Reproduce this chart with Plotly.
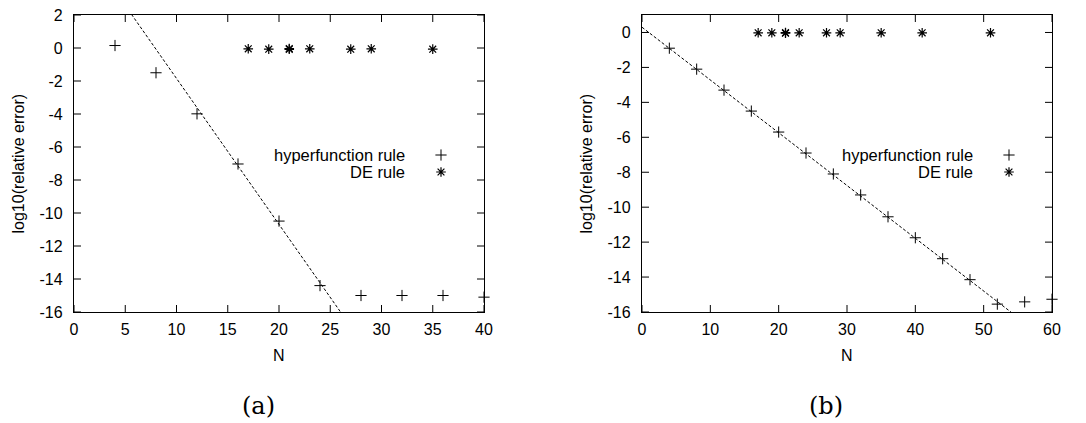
import plotly.graph_objects as go

# ---- data (a) ----
a_hyp_N = [4, 8, 12, 16, 20, 24, 28, 32, 36, 40]
a_hyp_err = [0.15, -1.5, -3.99, -7.03, -10.49, -14.4, -15.0, -15.0, -15.0, -15.1]
a_de_N = [17, 19, 21, 21, 23, 27, 29, 35]
a_de_err = [-0.05, -0.07, -0.03, -0.08, -0.05, -0.07, -0.05, -0.07]
a_fit_N = [0, 40]
a_fit_err = [7.0, 7.0 - 0.8845 * 40]

# ---- data (b) ----
b_hyp_N = [4, 8, 12, 16, 20, 24, 28, 32, 36, 40, 44, 48, 52, 56, 60]
b_hyp_err = [-0.9, -2.1, -3.3, -4.5, -5.7, -6.9, -8.1, -9.3, -10.55, -11.75,
             -12.95, -14.15, -15.55, -15.42, -15.27]
b_de_N = [17, 19, 21, 21, 23, 27, 29, 35, 41, 51]
b_de_err = [-0.02, -0.02, -0.01, -0.04, -0.02, -0.02, -0.02, -0.02, -0.02, -0.02]
b_fit_N = [0, 60]
b_fit_err = [0.3, 0.3 - 0.302 * 60]

x_ticks_a = [0, 5, 10, 15, 20, 25, 30, 35, 40]
x_ticks_b = [0, 10, 20, 30, 40, 50, 60]
y_ticks_a = [2, 0, -2, -4, -6, -8, -10, -12, -14, -16]
y_ticks_b = [0, -2, -4, -6, -8, -10, -12, -14, -16]
legend_labels = ["hyperfunction rule", "DE rule"]
panel_labels = ["(a)", "(b)"]
x_title = "N"
y_title = "log10(relative error)"

W, H = 1086, 423
FONT = "Liberation Sans, Arial, sans-serif"
BLACK = "#000000"
TICKLEN = 7

fig = go.Figure()

plus = dict(symbol="cross-thin-open", size=8, line=dict(color=BLACK, width=1), color=BLACK)
star = dict(symbol="asterisk-open", size=8, line=dict(color=BLACK, width=1.2), color=BLACK)

# pixel layout
PT, PB = 15, 312
panels = [
    dict(xa="x", ya="y", hx=a_hyp_N, hy=a_hyp_err, dx=a_de_N, dy=a_de_err,
         fx=a_fit_N, fy=a_fit_err, xr=[0, 40], yr=[-16, 2], L=74, R=484,
         xt=x_ticks_a, yt=y_ticks_a, text_right=407, key=441, ytitle_x=18),
    dict(xa="x2", ya="y2", hx=b_hyp_N, hy=b_hyp_err, dx=b_de_N, dy=b_de_err,
         fx=b_fit_N, fy=b_fit_err, xr=[0, 60], yr=[-16, 1], L=642, R=1052,
         xt=x_ticks_b, yt=y_ticks_b, text_right=975, key=1009, ytitle_x=586),
]
leg_rows = [155, 172]

for p in panels:
    x0r, x1r = p["xr"]
    y0r, y1r = p["yr"]
    dx_len = TICKLEN / (p["R"] - p["L"]) * (x1r - x0r)
    dy_len = TICKLEN / (PB - PT) * (y1r - y0r)

    # inside tick marks on all four sides (gnuplot style), built from the tick lists
    tx, ty = [], []
    for v in p["xt"]:
        tx += [v, v, None, v, v, None]
        ty += [y0r, y0r + dy_len, None, y1r, y1r - dy_len, None]
    for v in p["yt"]:
        tx += [x0r, x0r + dx_len, None, x1r, x1r - dx_len, None]
        ty += [v, v, None, v, v, None]
    fig.add_trace(go.Scatter(x=tx, y=ty, mode="lines", xaxis=p["xa"], yaxis=p["ya"],
                             line=dict(color=BLACK, width=1), showlegend=False,
                             hoverinfo="skip", connectgaps=False))

    fig.add_trace(go.Scatter(x=p["fx"], y=p["fy"], mode="lines", xaxis=p["xa"], yaxis=p["ya"],
                             line=dict(color=BLACK, width=1, dash="3px,2px"), showlegend=False,
                             hoverinfo="skip"))
    fig.add_trace(go.Scatter(x=p["hx"], y=p["hy"], mode="markers", xaxis=p["xa"], yaxis=p["ya"],
                             marker=plus, showlegend=False, cliponaxis=False))
    fig.add_trace(go.Scatter(x=p["dx"], y=p["dy"], mode="markers", xaxis=p["xa"], yaxis=p["ya"],
                             marker=star, showlegend=False, cliponaxis=False))

    # legend key positions converted from pixel layout to the panel's axis units
    kx = x0r + (p["key"] - p["L"]) / (p["R"] - p["L"]) * (x1r - x0r)
    ky = [y1r - (r - PT) / (PB - PT) * (y1r - y0r) for r in leg_rows]
    fig.add_trace(go.Scatter(x=[kx], y=[ky[0]], mode="markers",
                             xaxis=p["xa"], yaxis=p["ya"], marker=plus,
                             showlegend=False, hoverinfo="skip"))
    fig.add_trace(go.Scatter(x=[kx], y=[ky[1]], mode="markers",
                             xaxis=p["xa"], yaxis=p["ya"], marker=star,
                             showlegend=False, hoverinfo="skip"))
    for lab, row in zip(legend_labels, leg_rows):
        fig.add_annotation(x=p["text_right"] / W, y=1 - row / H, xref="paper", yref="paper",
                           text=lab, showarrow=False, xanchor="right", yanchor="middle",
                           font=dict(family=FONT, size=16.5, color=BLACK))
    # axis titles
    fig.add_annotation(x=p["ytitle_x"] / W, y=1 - (PT + PB) / 2 / H, xref="paper", yref="paper",
                       text=y_title, textangle=-90, showarrow=False,
                       xanchor="center", yanchor="middle",
                       font=dict(family=FONT, size=16, color=BLACK))
    fig.add_annotation(x=(p["L"] + p["R"]) / 2 / W, y=1 - 355 / H, xref="paper", yref="paper",
                       text=x_title, showarrow=False, xanchor="center", yanchor="middle",
                       font=dict(family=FONT, size=16, color=BLACK))

ytop = 1 - PT / H
ybot = 1 - PB / H

axis_common = dict(showline=True, mirror=True, linecolor=BLACK, linewidth=1.3,
                   ticks="", showgrid=False, zeroline=False, automargin=False,
                   tickfont=dict(family=FONT, size=16, color=BLACK))


def labels(vals):
    return [str(v) for v in vals]


pa, pb = panels
fig.update_layout(
    template="none",
    width=W, height=H,
    margin=dict(l=0, r=0, t=0, b=0, pad=0),
    paper_bgcolor="white", plot_bgcolor="white",
    showlegend=False,
    xaxis=dict(domain=[pa["L"] / W, pa["R"] / W], anchor="y", range=pa["xr"],
               tickvals=x_ticks_a, ticktext=labels(x_ticks_a), ticklabelstandoff=3, **axis_common),
    yaxis=dict(domain=[ybot, ytop], anchor="x", range=pa["yr"],
               tickvals=y_ticks_a, ticktext=labels(y_ticks_a), ticklabelstandoff=7, **axis_common),
    xaxis2=dict(domain=[pb["L"] / W, pb["R"] / W], anchor="y2", range=pb["xr"],
                tickvals=x_ticks_b, ticktext=labels(x_ticks_b), ticklabelstandoff=3, **axis_common),
    yaxis2=dict(domain=[ybot, ytop], anchor="x2", range=pb["yr"],
                tickvals=y_ticks_b, ticktext=labels(y_ticks_b), ticklabelstandoff=7, **axis_common),
)

for lab, cx in zip(panel_labels, [258, 826]):
    fig.add_annotation(x=cx / W, y=1 - 406 / H, xref="paper", yref="paper", text=lab,
                       showarrow=False, xanchor="center", yanchor="middle",
                       font=dict(family="DejaVu Serif, Liberation Serif, serif", size=24, color=BLACK))

fig.write_html("out.html", config={"displayModeBar": False},
               post_script="document.body.style.margin='0';document.body.style.overflow='hidden';")
